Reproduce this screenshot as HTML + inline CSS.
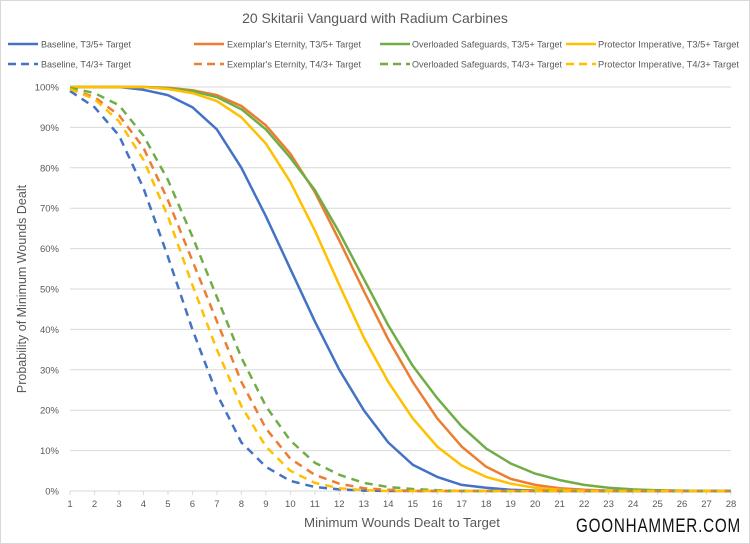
<!DOCTYPE html><html><head><style>body{margin:0;background:#fff}svg{display:block;font-family:"Liberation Sans",sans-serif}</style></head><body>
<svg id="s" width="750" height="544" xmlns="http://www.w3.org/2000/svg">
<rect x="0.5" y="0.5" width="749" height="543" fill="#fff" stroke="#d9d9d9"/>
<text x="375" y="23" font-size="14" fill="#595959" text-anchor="middle">20 Skitarii Vanguard with Radium Carbines</text>
<g font-size="9.5" fill="#595959" lengthAdjust="spacingAndGlyphs">
<line x1="8" y1="44" x2="38" y2="44" stroke="#4472C4" stroke-width="2.5"/><text x="41" y="47.5" textLength="90" lengthAdjust="spacingAndGlyphs">Baseline, T3/5+ Target</text>
<line x1="194" y1="44" x2="224" y2="44" stroke="#ED7D31" stroke-width="2.5"/><text x="227" y="47.5" textLength="134" lengthAdjust="spacingAndGlyphs">Exemplar's Eternity, T3/5+ Target</text>
<line x1="380" y1="44" x2="410" y2="44" stroke="#70AD47" stroke-width="2.5"/><text x="412" y="47.5" textLength="150" lengthAdjust="spacingAndGlyphs">Overloaded Safeguards, T3/5+ Target</text>
<line x1="566" y1="44" x2="596" y2="44" stroke="#FFC000" stroke-width="2.5"/><text x="598" y="47.5" textLength="141" lengthAdjust="spacingAndGlyphs">Protector Imperative, T3/5+ Target</text>
<line x1="8" y1="64" x2="38" y2="64" stroke="#4472C4" stroke-width="2.5" stroke-dasharray="8,5"/><text x="41" y="67.5" textLength="90" lengthAdjust="spacingAndGlyphs">Baseline, T4/3+ Target</text>
<line x1="194" y1="64" x2="224" y2="64" stroke="#ED7D31" stroke-width="2.5" stroke-dasharray="8,5"/><text x="227" y="67.5" textLength="134" lengthAdjust="spacingAndGlyphs">Exemplar's Eternity, T4/3+ Target</text>
<line x1="380" y1="64" x2="410" y2="64" stroke="#70AD47" stroke-width="2.5" stroke-dasharray="8,5"/><text x="412" y="67.5" textLength="150" lengthAdjust="spacingAndGlyphs">Overloaded Safeguards, T4/3+ Target</text>
<line x1="566" y1="64" x2="596" y2="64" stroke="#FFC000" stroke-width="2.5" stroke-dasharray="8,5"/><text x="598" y="67.5" textLength="141" lengthAdjust="spacingAndGlyphs">Protector Imperative, T4/3+ Target</text>
</g>
<g id="grid"></g><g id="ser"></g>
<text transform="translate(26,289) rotate(-90)" font-size="12.5" fill="#595959" text-anchor="middle">Probability of Minimum Wounds Dealt</text>
<text x="402" y="527" font-size="12.5" fill="#595959" text-anchor="middle" textLength="196" lengthAdjust="spacingAndGlyphs">Minimum Wounds Dealt to Target</text>
<text x="741" y="532" font-size="19" fill="#111" text-anchor="end" textLength="165" lengthAdjust="spacingAndGlyphs" letter-spacing="1">GOONHAMMER.COM</text>
</svg>
<script>
var NS="http://www.w3.org/2000/svg",g=document.getElementById("grid"),S=document.getElementById("ser");
function X(i){return 70+(i-1)*661/27}function Y(p){return 491-4.04*p}
function el(t,a,p,tx){var e=document.createElementNS(NS,t);for(var k in a)e.setAttribute(k,a[k]);if(tx!=null)e.textContent=tx;p.appendChild(e);return e}
for(var p=0;p<=100;p+=10){el("line",{x1:70,x2:731,y1:Y(p),y2:Y(p),stroke:"#d9d9d9","stroke-width":1},g);el("text",{x:59,y:Y(p)+3.5,"font-size":9.5,fill:"#595959","text-anchor":"end"},g,p+"%")}
for(var i=1;i<=28;i++){el("line",{x1:X(i),x2:X(i),y1:491,y2:495,stroke:"#d9d9d9"},g);el("text",{x:X(i),y:507,"font-size":9.5,fill:"#595959","text-anchor":"middle"},g,i)}
function f(a){var r=[];for(var i=0;i<28;i++)r.push(i<a.length?a[i]:0);return r}
var D=[
["#4472C4",0,[100,100,100,99.3,98,95,89.5,80,68,55,42,30,20,12,6.5,3.5,1.5,0.8,0.3,0.1]],
["#ED7D31",0,[100,100,100,100,99.8,99.2,98,95.3,90.5,83.5,74,62,49.5,37.5,27,18,11,6,3,1.5,0.7,0.3,0.1]],
["#70AD47",0,[100,100,100,100,99.7,99,97.5,94.5,89.5,82.5,74.5,64,52.5,41,31,23,16,10.5,6.8,4.3,2.7,1.5,0.8,0.4,0.2,0.1]],
["#FFC000",0,[100,100,100,100,99.5,98.5,96.5,92.5,86,76.5,64.5,51,38,27,18,11,6.3,3.5,1.8,0.8,0.3,0.1]],
["#4472C4",1,[99,95,88,75,58,40,24,12,6,2.5,1,0.4,0.1]],
["#ED7D31",1,[99.5,97.5,93,85,72,57,42,27,15.5,8,4,1.8,0.7,0.3]],
["#70AD47",1,[99.8,98.5,95.5,88,77,63,48,33,21,12.5,7,4,2,1,0.5,0.2]],
["#FFC000",1,[99.5,97,91.5,82,68,51,35,21,11,5,2,0.7,0.2]]];
D.forEach(function(d){var v=f(d[2]),pts=v.map(function(p,i){return X(i+1).toFixed(1)+","+Y(p).toFixed(1)}).join(" ");
var a={points:pts,fill:"none",stroke:d[0],"stroke-width":2.5,"stroke-linejoin":"round"};if(d[1])a["stroke-dasharray"]="8,6";el("polyline",a,S)});
</script></body></html>
